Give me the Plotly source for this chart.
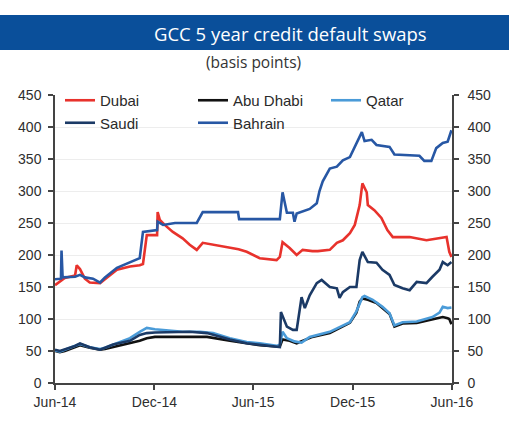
import plotly.graph_objects as go

# ---------------- data (basis points) ----------------
dubai_dates = ["2014-06-01","2014-06-10","2014-06-19","2014-07-08","2014-07-11","2014-07-17","2014-07-26","2014-08-04",
               "2014-08-23","2014-09-01","2014-09-23","2014-10-17","2014-11-04","2014-11-10","2014-11-17","2014-12-06",
               "2014-12-07","2014-12-11","2014-12-20","2015-01-04","2015-01-22","2015-02-04","2015-02-17","2015-02-28",
               "2015-03-19","2015-04-05","2015-04-19","2015-05-05","2015-05-20","2015-06-13","2015-07-14","2015-07-20",
               "2015-07-25","2015-08-07","2015-08-20","2015-08-31","2015-09-18","2015-09-28","2015-10-20","2015-11-02",
               "2015-11-13","2015-11-26","2015-12-05","2015-12-14","2015-12-19","2015-12-27","2015-12-29","2016-01-10",
               "2016-01-23","2016-02-03","2016-02-13","2016-03-15","2016-04-15","2016-05-22","2016-05-27","2016-05-31"]
dubai_vals = [153,158,164,168,184,178,163,157,
              156,162,177,182,184,186,231,231,
              267,255,247,236,226,216,208,219,
              216,214,211,209,205,195,192,197,
              220,211,200,208,206,206,208,219,
              223,234,247,278,312,298,278,270,
              258,239,228,228,223,228,205,197]

abudhabi_dates = ["2014-06-01","2014-06-10","2014-06-19","2014-07-08","2014-07-17","2014-08-04","2014-08-23","2014-09-01",
                  "2014-09-16","2014-10-17","2014-11-04","2014-11-17","2014-12-02","2014-12-17","2015-01-08","2015-02-04",
                  "2015-03-08","2015-04-19","2015-05-20","2015-06-13","2015-07-14","2015-07-20","2015-07-25","2015-08-07",
                  "2015-08-20","2015-09-04","2015-09-18","2015-10-20","2015-11-13","2015-11-26","2015-12-08","2015-12-14",
                  "2015-12-19","2015-12-29","2016-01-14","2016-01-25","2016-02-07","2016-02-16","2016-03-02","2016-03-28",
                  "2016-04-15","2016-05-03","2016-05-15","2016-05-24","2016-05-27","2016-05-31"]
abudhabi_vals = [50,48,50,56,59,55,52,53,
                 56,62,66,70,72,72,72,73,
                 72,66,62,59,57,57,68,66,
                 62,67,72,78,88,94,110,127,
                 132,130,125,117,108,88,93,94,
                 97,100,103,101,100,92]

qatar_dates = ["2014-06-01","2014-06-10","2014-06-19","2014-07-08","2014-07-17","2014-08-04","2014-08-23","2014-09-01",
               "2014-09-16","2014-10-17","2014-11-04","2014-11-17","2014-12-02","2014-12-17","2015-01-22","2015-02-23",
               "2015-03-19","2015-04-19","2015-05-20","2015-06-13","2015-07-14","2015-07-20","2015-07-25","2015-08-02",
               "2015-08-16","2015-08-29","2015-09-13","2015-10-20","2015-11-13","2015-11-26","2015-12-08","2015-12-19",
               "2015-12-23","2016-01-07","2016-01-25","2016-02-07","2016-02-16","2016-03-02","2016-03-28","2016-04-15",
               "2016-04-26","2016-05-09","2016-05-15","2016-05-24","2016-05-31"]
qatar_vals = [51,49,52,58,61,56,53,55,
              60,70,80,86,84,83,80,80,
              78,70,64,62,58,60,80,70,
              65,63,72,80,90,95,112,134,
              136,130,119,109,90,95,96,100,
              103,110,119,117,118]

saudi_dates = ["2014-06-01","2014-06-10","2014-07-08","2014-07-17","2014-08-04","2014-08-23","2014-09-16","2014-10-17",
               "2014-11-04","2014-11-17","2014-12-02","2015-01-08","2015-02-04","2015-03-08","2015-04-19","2015-05-20",
               "2015-06-13","2015-07-14","2015-07-20","2015-07-22","2015-08-02","2015-08-13","2015-08-20","2015-08-29",
               "2015-09-04","2015-09-13","2015-09-26","2015-10-05","2015-10-20","2015-11-02","2015-11-07","2015-11-13",
               "2015-11-26","2015-12-08","2015-12-14","2015-12-19","2015-12-29","2016-01-14","2016-01-25","2016-02-07",
               "2016-02-16","2016-03-02","2016-03-15","2016-03-28","2016-04-15","2016-04-26","2016-05-09","2016-05-15",
               "2016-05-24","2016-05-31"]
saudi_vals = [52,50,58,62,56,52,60,66,
              75,78,79,80,80,78,68,62,
              60,57,56,111,88,83,83,134,
              117,137,156,161,150,148,133,142,
              150,150,192,205,189,188,177,169,
              153,148,145,158,156,166,177,189,
              184,189]

bahrain_dates = ["2014-06-01","2014-06-12","2014-06-13","2014-06-15","2014-07-08","2014-07-17","2014-07-26","2014-08-10",
                 "2014-08-23","2014-09-01","2014-09-23","2014-10-17","2014-11-04","2014-11-10","2014-12-06","2014-12-07",
                 "2014-12-17","2015-01-08","2015-02-17","2015-02-28","2015-05-04","2015-05-06","2015-07-20","2015-07-25",
                 "2015-08-02","2015-08-13","2015-08-16","2015-08-20","2015-09-13","2015-09-26","2015-10-01","2015-10-07",
                 "2015-10-20","2015-11-02","2015-11-13","2015-11-26","2015-12-05","2015-12-18","2015-12-23","2016-01-05",
                 "2016-01-14","2016-02-07","2016-02-16","2016-04-02","2016-04-11","2016-04-24","2016-05-03","2016-05-15",
                 "2016-05-24","2016-05-31"]
bahrain_vals = [162,163,207,165,166,169,165,163,
                157,165,180,188,195,236,239,252,
                247,250,250,267,267,256,256,298,
                266,266,252,265,272,281,300,315,
                335,338,348,353,369,392,378,380,
                372,369,357,355,347,347,367,375,
                377,395]

tick_dates = ["2014-06-01", "2014-12-01", "2015-06-01", "2015-12-01", "2016-06-01"]
tick_labels = ["Jun-14", "Dec-14", "Jun-15", "Dec-15", "Jun-16"]
y_ticks = [0, 50, 100, 150, 200, 250, 300, 350, 400, 450]

title_text = "GCC 5 year credit default swaps"
subtitle_text = "(basis points)"

# ---------------- layout constants ----------------
W, H = 509, 430
ML, MR, MT, MB = 55, 57, 95, 47
PW, PH = W - ML - MR, H - MT - MB


def px_x(px):
    return (px - ML) / PW


def px_y(py):
    return (H - MB - py) / PH


series = [
    ("Dubai", dubai_dates, dubai_vals, "#e8322c"),
    ("Abu Dhabi", abudhabi_dates, abudhabi_vals, "#111111"),
    ("Qatar", qatar_dates, qatar_vals, "#4a9bd8"),
    ("Saudi", saudi_dates, saudi_vals, "#1b3a66"),
    ("Bahrain", bahrain_dates, bahrain_vals, "#2757a4"),
]

fig = go.Figure()
for name, d, v, c in series:
    fig.add_trace(go.Scatter(x=d, y=v, name=name, mode="lines",
                             line=dict(color=c, width=2.6)))
# invisible copy to activate the right-hand axis
fig.add_trace(go.Scatter(x=bahrain_dates, y=bahrain_vals, yaxis="y2", mode="lines",
                         line=dict(width=0), opacity=0, showlegend=False, hoverinfo="skip"))

tickfont = dict(family="Liberation Sans, Arial, sans-serif", size=14, color="#2e2e2e")

fig.update_layout(
    width=W, height=H,
    margin=dict(l=ML, r=MR, t=MT, b=MB, pad=0),
    paper_bgcolor="white", plot_bgcolor="white",
    showlegend=True,
    legend=dict(orientation="h", x=px_x(60), y=px_y(84), xanchor="left", yanchor="top",
                entrywidth=88, entrywidthmode="pixels", tracegroupgap=0,
                bgcolor="rgba(0,0,0,0)",
                font=dict(family="Liberation Sans, Arial, sans-serif", size=15, color="#2a2a2a")),
    xaxis=dict(type="date", range=[tick_dates[0], tick_dates[-1]],
               tickvals=tick_dates, ticktext=tick_labels, tickfont=tickfont,
               showgrid=False, zeroline=False, showline=True, linecolor="#444444", linewidth=1.5,
               ticks="outside", ticklen=5, tickcolor="#444444", tickwidth=1.5),
    yaxis=dict(range=[0, 450], tickvals=y_ticks, tickfont=tickfont,
               showgrid=True, gridcolor="#ededed", gridwidth=1, zeroline=False,
               showline=True, linecolor="#444444", linewidth=1.5,
               ticks="outside", ticklen=5, tickcolor="#444444", tickwidth=1.5,
               ticklabelstandoff=4),
    yaxis2=dict(range=[0, 450], tickvals=y_ticks, tickfont=tickfont, overlaying="y", side="right",
                showgrid=False, zeroline=False, showline=True, linecolor="#444444", linewidth=1.5,
                ticks="outside", ticklen=5, tickcolor="#444444", tickwidth=1.5,
                ticklabelstandoff=6),
    shapes=[dict(type="rect", xref="paper", yref="paper",
                 x0=px_x(0), x1=px_x(W), y0=px_y(50), y1=px_y(15),
                 fillcolor="#0a4f9a", line=dict(width=0), layer="below")],
    annotations=[
        dict(text=title_text, xref="paper", yref="paper", x=px_x(290), y=px_y(33),
             xanchor="center", yanchor="middle", showarrow=False,
             font=dict(family="Open Sans, sans-serif", size=18.5, color="white")),
        dict(text=subtitle_text, xref="paper", yref="paper", x=px_x(253), y=px_y(62),
             xanchor="center", yanchor="middle", showarrow=False,
             font=dict(family="Open Sans, sans-serif", size=15.5, color="#333333")),
    ],
)

# remove the browser's default page margin so the figure sits at the window origin
fig.write_html("out.html", config={"displayModeBar": False},
               post_script="document.body.style.margin='0';")
